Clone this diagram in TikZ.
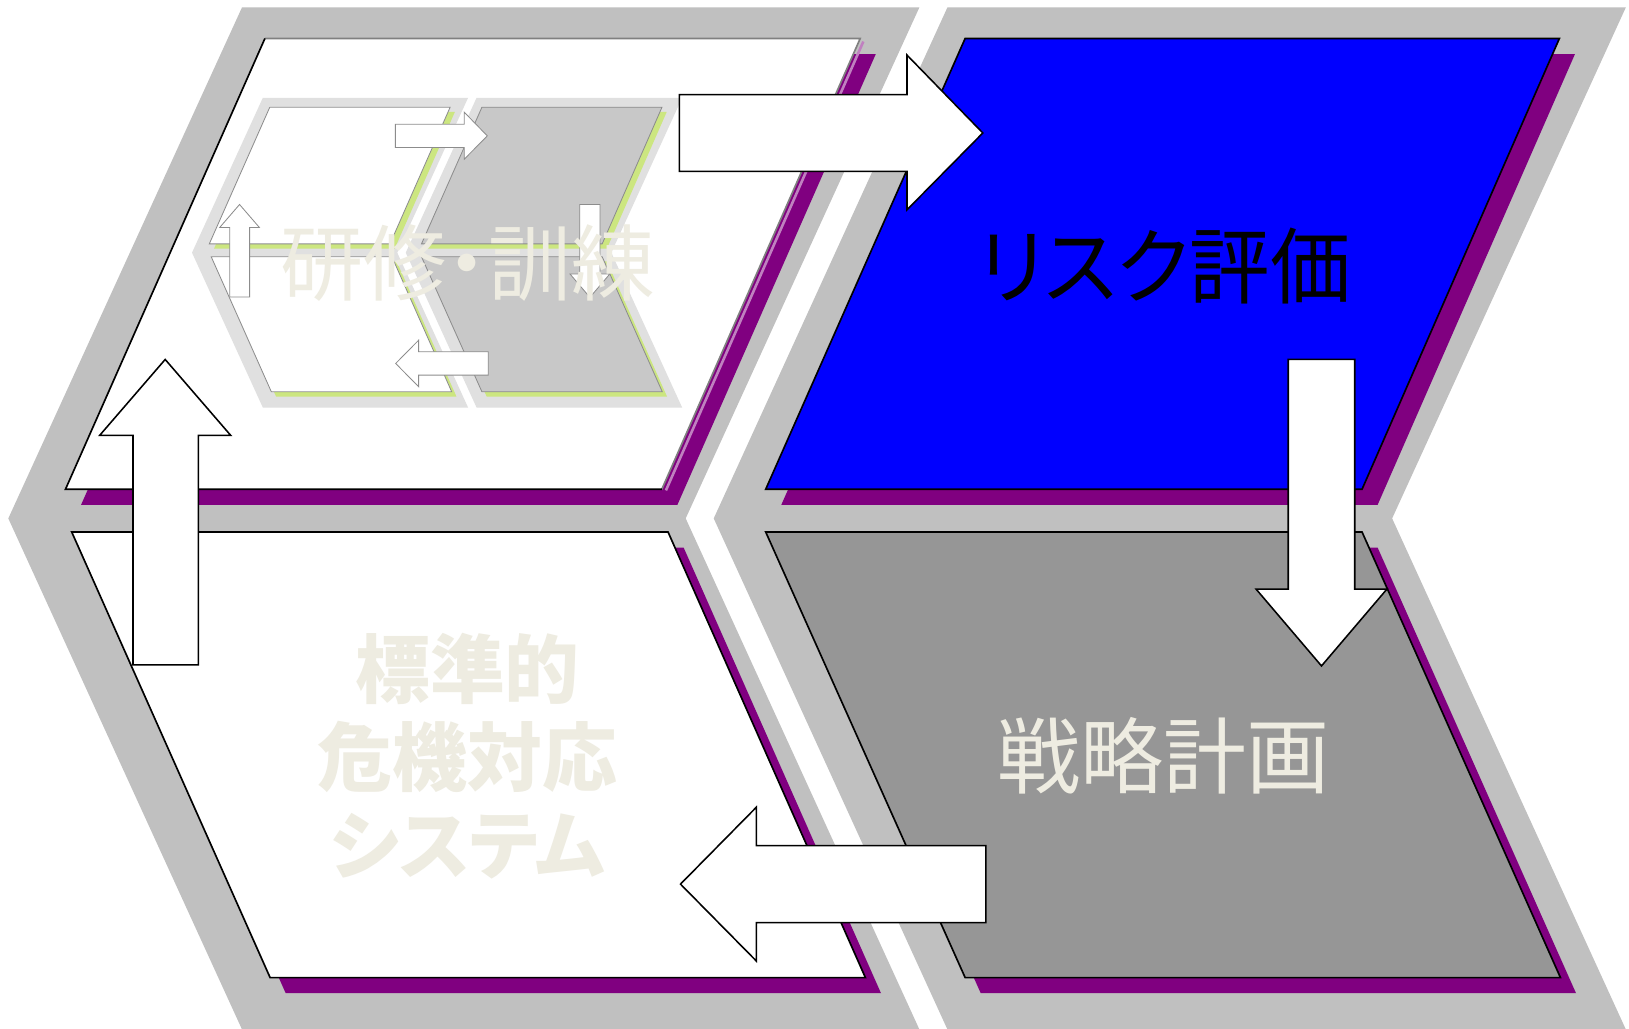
\documentclass[tikz,border=0pt]{standalone}
\usepackage{fontspec}
\newfontfamily\jp[RawFeature=+palt]{Noto Sans CJK JP}
\definecolor{chevgray}{HTML}{C0C0C0}
\definecolor{shpurple}{HTML}{800080}
\definecolor{shlav}{HTML}{C080C0}
\definecolor{panblue}{HTML}{0000FF}
\definecolor{pangray}{HTML}{969696}
\definecolor{beige}{HTML}{EEECE1}
\definecolor{edgegray}{HTML}{808080}
\definecolor{inchev}{HTML}{E0E0E0}
\definecolor{inpan}{HTML}{C8C8C8}
\definecolor{ingreen}{HTML}{CCE680}
\definecolor{inline}{HTML}{8C8C8C}

\newcommand\drawbase{%
  % chevron frames
  \fill[chev] (233,7) -- (885,7) -- (660,499) -- (885,991) -- (233,991) -- (8,499) -- cycle;
  \fill[chev] (912,7) -- (1565,7) -- (1340,499) -- (1565,991) -- (912,991) -- (687,499) -- cycle;
  % shadows
  \fill[shad] (270,52) -- (843,52) -- (652,486) -- (78,486) -- cycle;
  \fill[shad] (944,52) -- (1516,52) -- (1326,486) -- (752,486) -- cycle;
  \fill[shad] (84,527) -- (658,527) -- (848,956) -- (275,956) -- cycle;
  \fill[shad] (752,527) -- (1326,527) -- (1517,956) -- (944,956) -- cycle;
  % panels
  \fill[panTL] (255,37) -- (828,37) -- (637,471) -- (63,471) -- cycle;
  \draw[edgeC] (831,40) -- (641,472);
  \draw[edgeB, line join=miter] (255,37) -- (828,37) -- (637,471);
  \draw[edgeA, line join=miter] (255,37) -- (63,471) -- (637,471);
  \filldraw[panTR, edgeA] (929,37) -- (1501,37) -- (1311,471) -- (737,471) -- cycle;
  \filldraw[panBL, edgeA] (69,512) -- (643,512) -- (833,941) -- (260,941) -- cycle;
  \filldraw[panBR, edgeA] (737,512) -- (1311,512) -- (1502,941) -- (929,941) -- cycle;
}
\newcommand\drawarrows{%
  \filldraw[barrow] (654,91) -- (873,91) -- (873,53) -- (946,128) -- (873,202) -- (873,165) -- (654,165) -- cycle;
  \filldraw[barrow] (1240,346) -- (1304,346) -- (1304,567) -- (1335,567) -- (1272,641) -- (1209,567) -- (1240,567) -- cycle;
  \filldraw[barrow] (949,814) -- (949,888) -- (728,888) -- (728,925) -- (655,851) -- (728,777) -- (728,814) -- cycle;
  \filldraw[barrow] (128,640) -- (128,419) -- (96,419) -- (159,346) -- (222,419) -- (191,419) -- (191,640) -- cycle;
}

\begin{document}
\begin{tikzpicture}[x=1pt,y=-1pt,
  chev/.style={fill=chevgray},
  shad/.style={fill=shpurple},
  panTL/.style={fill=white},
  panTR/.style={fill=panblue},
  panBL/.style={fill=white},
  panBR/.style={fill=pangray},
  edgeA/.style={draw=black,line width=1.6pt},
  edgeB/.style={draw=edgegray,line width=1.6pt},
  edgeC/.style={draw=shlav,line width=2.5pt},
  barrow/.style={fill=white,draw=black,line width=1.5pt,line join=miter},
  txt/.style={inner sep=0pt,font=\jp\fontsize{80}{96}\selectfont},
  txtb/.style={inner sep=0pt,align=center,font=\jp\bfseries\fontsize{72}{85}\selectfont}]
\useasboundingbox (0,0) rectangle (1568,990);
\fill[white] (0,0) rectangle (1568,990);

\drawbase

\begin{scope}[shift={(182.4,92)},scale=0.303,
  chev/.style={fill=inchev},
  shad/.style={fill=ingreen},
  panTR/.style={fill=inpan},
  panBR/.style={fill=inpan},
  edgeA/.style={draw=inline,line width=0.8pt},
  edgeB/.style={draw=inline,line width=0.8pt},
  edgeC/.style={draw=none},
  barrow/.style={fill=white,draw=inline,line width=0.8pt,line join=miter}]
  \drawbase
  \drawarrows
\end{scope}

\node[txt, text=beige] (kenshu) at (450,253) {研修・訓練};
\node[txt, text=black] (risk) at (1121,256) {\scalebox{0.97}[1]{リスク評価}};
\node[txt, text=beige] (senryaku) at (1120,727) {戦略計画};
\node[txtb, text=beige] (hyojun) at (450,728) {標準的\\危機対応\\システム};

\drawarrows
\end{tikzpicture}
\end{document}
